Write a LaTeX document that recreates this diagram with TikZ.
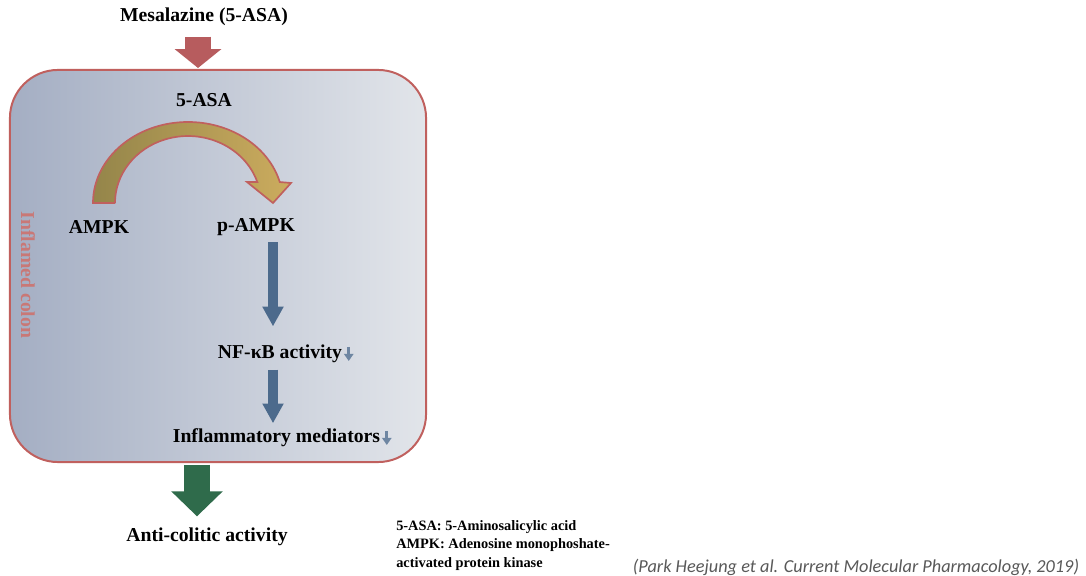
\documentclass[tikz,border=0pt]{standalone}
\usepackage{fontspec}
\setmainfont{Liberation Serif}
\newfontfamily\citefont{Carlito}
\usetikzlibrary{arrows.meta,calc}
\definecolor{colred}{HTML}{C0605E}
\definecolor{arrred}{HTML}{B75C5E}
\definecolor{boxleft}{HTML}{A4AEC3}
\definecolor{boxright}{HTML}{E2E5EA}
\definecolor{pathblue}{HTML}{4C6A8C}
\definecolor{downblue}{HTML}{6E86A2}
\definecolor{effgreen}{HTML}{2F6B4B}
\definecolor{goldleft}{HTML}{94854A}
\definecolor{goldright}{HTML}{CCAC5E}
\definecolor{citegray}{HTML}{595959}

\begin{document}
\begin{tikzpicture}[x=0.025cm,y=0.025cm,
  lbl/.style={font=\fontsize{14}{16}\selectfont\bfseries,inner sep=1pt},
  colonbox/.style={draw=colred,line width=1.4pt,rounded corners=1.2cm,
    left color=boxleft,right color=boxright,minimum width=10.4cm,minimum height=9.8cm},
  redarr/.style={-{Triangle[width=32.7pt,length=13.5pt]},arrred,line width=18.5pt},
  bluearr/.style={-{Triangle[width=14.2pt,length=14pt]},pathblue,line width=7.1pt},
  greenarr/.style={-{Triangle[width=35.6pt,length=17.8pt]},effgreen,line width=18.5pt},
  downarr/.style={-{Triangle[width=6.5pt,length=5pt]},downblue,line width=2.4pt},
  legend/.style={font=\fontsize{10.2}{13.3}\selectfont\bfseries,align=left,inner sep=0pt},
  cite/.style={font=\citefont\itshape\fontsize{13}{15}\selectfont,text=citegray,inner sep=0pt}]

  \useasboundingbox (0,0) rectangle (1086,-576);
  \fill[white] (0,0) rectangle (1086,-576);

  % ---- Inflamed colon --------------------------------------
  \node[colonbox] (colon) at (218,-266) {};
  \node[lbl,text=colred!85,rotate=-90] (colonlbl) at (28,-275) {Inflamed colon};

  % ---- Drug input -------------------------------------------
  \node[lbl] (title) at (204,-17) {Mesalazine (5-ASA)};
  \coordinate (drugin) at (198,-68);
  \draw[redarr] (title.south -| drugin) ++(0,-9) -- (drugin);

  % ---- Phosphorylation ---------------------------------------
  \node[lbl] (asa)   at (204,-100) {5-ASA};
  \node[lbl] (ampk)  at (99,-227)  {AMPK};
  \node[lbl] (pampk) at (256,-227) {p-AMPK};
  % curved block arrow AMPK -> p-AMPK
  \draw[colred,line width=1.2pt,left color=goldleft,right color=goldright]
    (115,-203) -- (93,-203)
    arc[start angle=180,end angle=15,x radius=95,y radius=81]
    -- (291,-183) -- (273,-203) -- (247,-182) -- (257.3,-182)
    arc[start angle=18.3,end angle=180,x radius=73,y radius=67] -- cycle;

  % ---- Signalling cascade -----------------------------------
  \node[lbl] (nfkb)      at (280,-354)   {NF-κB activity};
  \node[lbl] (mediators) at (276.5,-438) {Inflammatory mediators};
  \coordinate (axis) at (273,0);
  \draw[bluearr] ($(pampk.south -| axis)+(0,-5)$) -- ($(nfkb.north -| axis)+(0,17)$);
  \draw[bluearr] ($(nfkb.south -| axis)+(0,-5)$) -- ($(mediators.north -| axis)+(0,4)$);
  \draw[downarr] ($(nfkb.east)+(5,7)$) -- ++(0,-14);
  \draw[downarr] ($(mediators.east)+(5,7)$) -- ++(0,-14);

  % ---- Outcome ----------------------------------------------
  \node[lbl] (anticol) at (207,-537) {Anti-colitic activity};
  \coordinate (effout) at (197,-465);
  \draw[greenarr] (effout) -- ($(anticol.north -| effout)+(0,10)$);

  % ---- Abbreviations and source ------------------------------
  \node[legend,anchor=north west] (abbr) at (396,-520)
    {5-ASA: 5-Aminosalicylic acid\\AMPK: Adenosine monophoshate-\\activated protein kinase};
  \node[cite] (source) at (856,-567)
    {(Park Heejung et al. Current Molecular Pharmacology, 2019)};

\end{tikzpicture}
\end{document}
